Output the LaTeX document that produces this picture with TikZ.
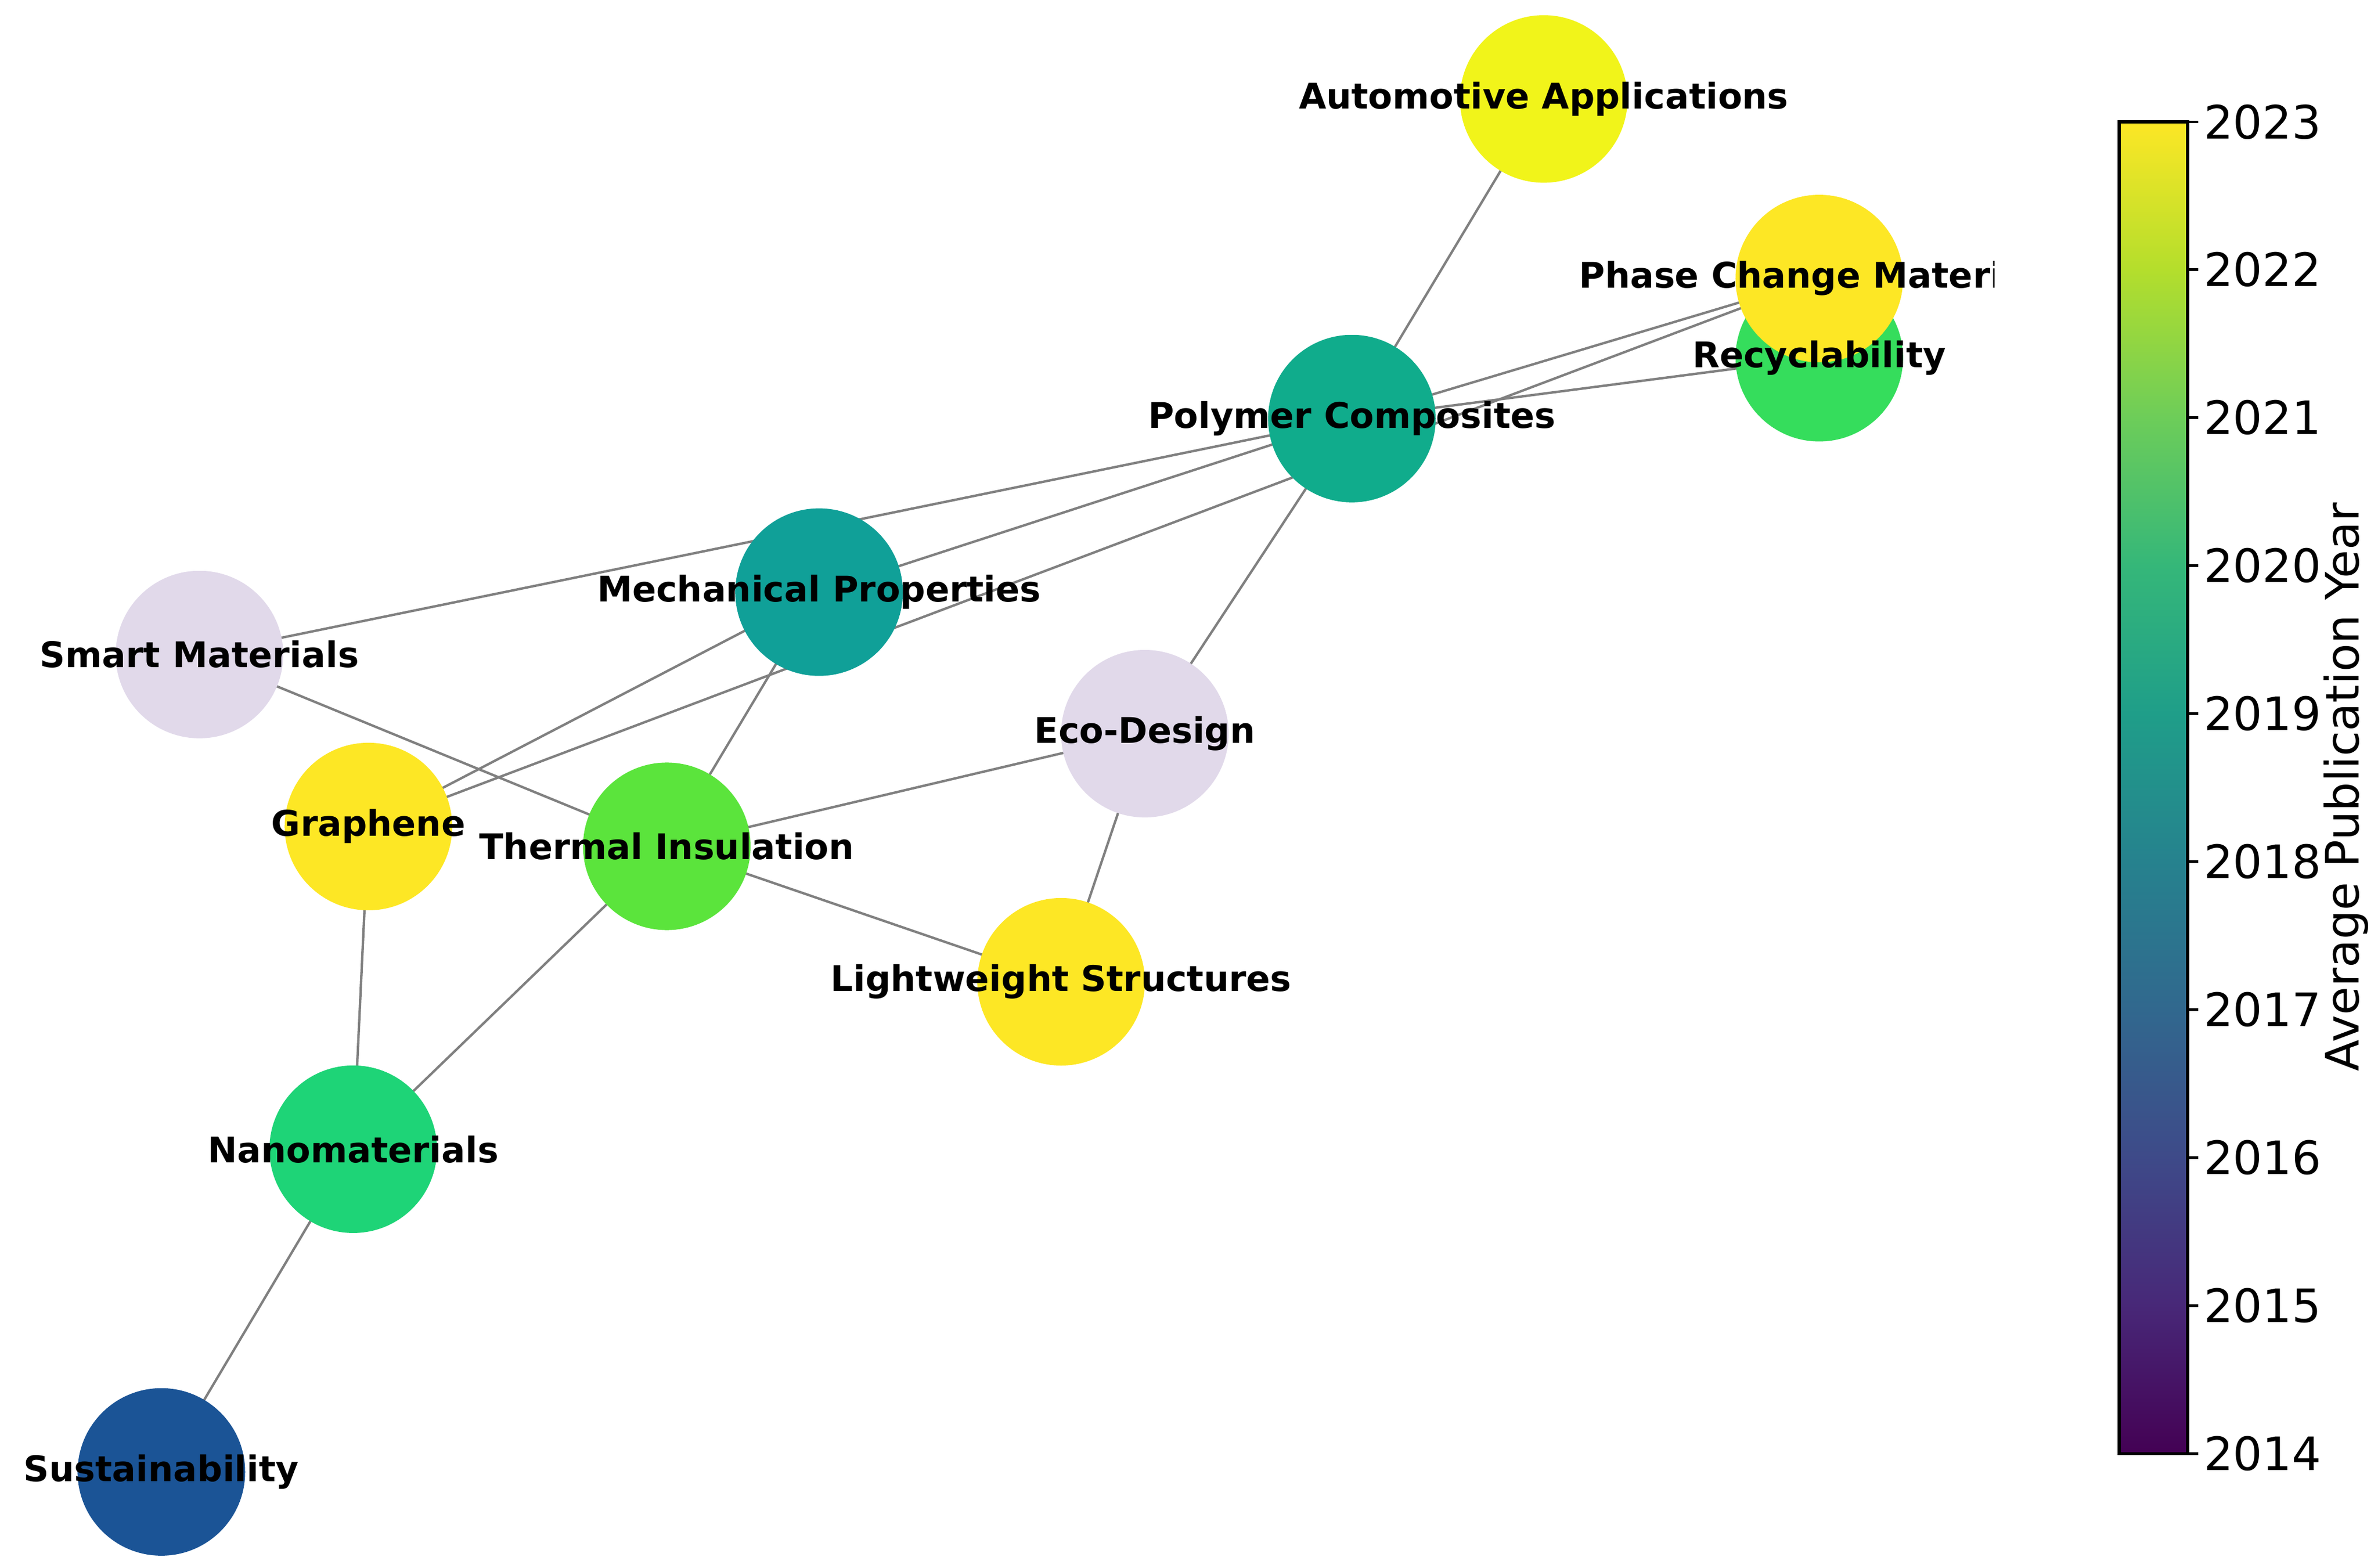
\documentclass[tikz,border=0pt]{standalone}
\usepackage{fontspec}
\setmainfont{DejaVu Sans}
\usetikzlibrary{positioning}
\definecolor{yrA}{HTML}{F1F41A}
\definecolor{yrB}{HTML}{FDE725}
\definecolor{yrC}{HTML}{35DD5C}
\definecolor{yrD}{HTML}{10AC8C}
\definecolor{yrE}{HTML}{10A098}
\definecolor{yrF}{HTML}{E1D9EA}
\definecolor{yrG}{HTML}{5BE43C}
\definecolor{yrH}{HTML}{1ED477}
\definecolor{yrI}{HTML}{1B5496}
\definecolor{edgegray}{HTML}{808080}

\begin{document}
\begin{tikzpicture}[x=0.01cm,y=-0.01cm,
    topic/.style={circle, minimum size=1.1cm, inner sep=0pt},
    tlabel/.style={font=\fontsize{6.6}{7}\selectfont\bfseries, inner sep=0pt},
    link/.style={edgegray, line width=0.45pt}]
   \useasboundingbox (0,0) rectangle (1562,1030);

   % topic nodes
   \node[topic] (auto) at (1014,65) {};
   \node[topic] (recy) at (1195,235) {};
   \node[topic] (phase) at (1195,183) {};
   \node[topic] (poly) at (888,275) {};
   \node[topic] (mech) at (538,389) {};
   \node[topic] (smart) at (131,430) {};
   \node[topic] (eco) at (752,482) {};
   \node[topic] (graph) at (242,543) {};
   \node[topic] (therm) at (438,556) {};
   \node[topic] (light) at (697,645) {};
   \node[topic] (nano) at (232,755) {};
   \node[topic] (sust) at (106,967) {};

   % links
   \foreach \a/\b in {auto/poly, poly/phase, poly/recy, smart/poly, mech/poly,
                      graph/phase, graph/mech, mech/therm, smart/therm, therm/eco,
                      therm/light, eco/light, eco/poly, graph/nano, therm/nano, nano/sust}
      \draw[link] (\a.center) -- (\b.center);

   % discs above links
   \foreach \n/\c in {auto/yrA, recy/yrC, phase/yrB, poly/yrD, mech/yrE, smart/yrF,
                      eco/yrF, graph/yrB, therm/yrG, light/yrB, nano/yrH, sust/yrI}
      \fill[\c] (\n.center) circle [radius=0.55cm];

   % labels
   \node[tlabel] at (auto) {Automotive Applications};
   \begin{scope}
      \clip (1000,150) rectangle (1310,215);
      \node[tlabel] at (phase) {Phase Change Materials};
   \end{scope}
   \node[tlabel] at (recy) {Recyclability};
   \node[tlabel] at (poly) {Polymer Composites};
   \node[tlabel] at (mech) {Mechanical Properties};
   \node[tlabel] at (smart) {Smart Materials};
   \node[tlabel] at (eco) {Eco-Design};
   \node[tlabel] at (graph) {Graphene};
   \node[tlabel] at (therm) {Thermal Insulation};
   \node[tlabel] at (light) {Lightweight Structures};
   \node[tlabel] at (nano) {Nanomaterials};
   \node[tlabel] at (sust) {Sustainability};

   % colour bar
   \foreach \lo/\hi [count=\i from 0] in {440154/482878,482878/3E4A89,3E4A89/31688E,
        31688E/26828E,26828E/1F9E89,1F9E89/35B779,35B779/6DCD59,6DCD59/B4DE2C,B4DE2C/FDE725} {
      \definecolor{cbLo}{HTML}{\lo}\definecolor{cbHi}{HTML}{\hi}
      \shade[bottom color=cbLo, top color=cbHi]
         (1392,{955-\i*97.22}) rectangle (1437,{955-(\i+1)*97.22-0.5});
   }
   \draw[line width=0.6pt] (1392,80) rectangle (1437,955);
   \foreach \yr [count=\k from 0] in {2014,...,2023} {
      \draw[line width=0.5pt] (1437,{955-\k*97.22}) -- ++(7,0);
      \node[anchor=west, font=\fontsize{8.6}{9}\selectfont, inner sep=0pt]
         at (1447,{955-\k*97.22}) {\yr};
   }
   \node[rotate=90, font=\fontsize{8.6}{9}\selectfont, inner sep=0pt] (cblabel)
      at (1541,517) {Average Publication Year};
\end{tikzpicture}
\end{document}
